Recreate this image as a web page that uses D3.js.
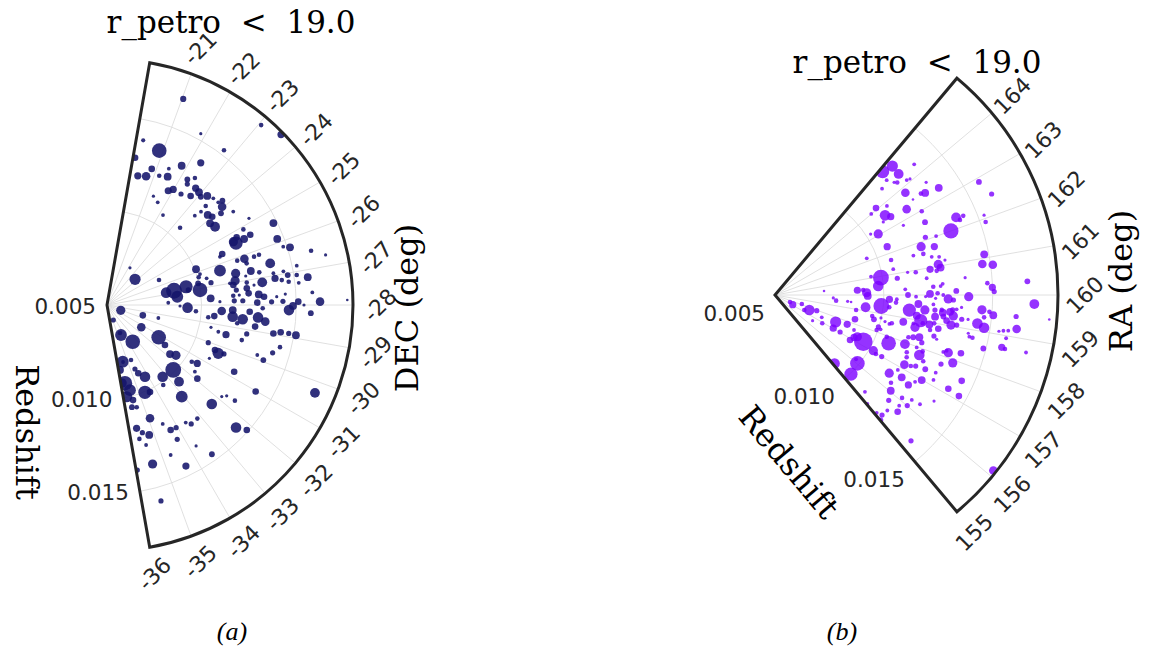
<!DOCTYPE html>
<meta charset="utf-8">
<script src="https://d3js.org/d3.v7.min.js"></script>
<style>
body { margin: 0; background: #fff; }
</style>
<div id="chart"></div>
<script>
// ---- panel (a): DEC vs redshift ----
var decA = [-21.03,-23.06,-23.56,-21.87,-20.24,-20.87,-22.71,-20.08,-21.82,-22.34,
  -20.82,-20.34,-20.69,-21.2,-21.53,-21.44,-22.26,-22.47,-22.36,-21.82,
  -21.98,-22.37,-22.75,-22.72,-22.92,-23.26,-23.09,-21.31,-21.63,-22.19,
  -23.49,-23.79,-23.95,-23.73,-23.49,-24.12,-23.82,-24.0,-23.52,-23.45,
  -24.16,-24.41,-24.35,-24.86,-25.38,-23.34,-25.1,
  -25.44,-25.34,-25.43,-25.39,-25.24,-25.88,-26.25,-26.17,-26.51,-26.71,
  -25.61,-25.69,-26.14,-26.18,-26.17,-26.12,-26.34,-26.57,-26.83,-22.17,
  -25.81,-26.31,-26.62,-26.67,-26.79,-26.92,-26.92,-27.06,-27.1,-27.21,
  -27.1,-27.19,-27.17,-26.93,-27.09,-27.27,-27.34,-23.75,-25.43,-26.32,
  -26.16,-26.5,-26.79,-27.0,-27.1,-26.7,-26.8,-26.82,-27.33,-27.08,
  -26.66,-26.95,-27.63,-28.19,-27.79,-28.08,-28.4,-30.12,-29.61,-29.42,
  -31.3,-34.5,-33.5,-34.72,-31.2,-30.04,-30.35,-30.26,-30.27,-30.75,
  -31.46,-31.79,-31.61,-32.44,-33.22,-32.68,-34.21,-34.54,-34.64,-34.64,
  -35.45,-35.71,-35.49,-34.65,-34.37,-33.49,-33.08,-31.38,-31.29,-31.72,
  -31.92,-30.77,-31.72,-31.02,-29.94,-29.84,-29.61,-29.37,-28.97,-28.89,
  -28.89,-28.91,-28.83,-29.17,-29.46,-29.4,-29.35,-29.21,-28.69,-28.59,
  -28.3,-28.23,-28.53,-28.6,-28.27,-28.47,-28.6,-28.12,-28.8,-27.6,
  -27.7,-27.91,-27.53,-27.32,-27.34,-27.81,-27.82,-27.89,-27.88,-28.16,
  -28.03,-27.9,-28.23,-27.91,-27.65,-28.0,-27.88,-27.65,-30.29,-26.82,
  -27.23,-27.58,-27.57,-27.83,-27.72,-35.9,-35.79,-35.87,-34.51,-35.43,
  -35.47,-32.34,-31.68,-34.92,-35.65,-35.45,-35.2,-34.49,-34.3,-34.06,
  -33.62,-33.47,-33.15,-32.35,-32.18,-34.24,-35.64,-35.44,-33.77,-33.49,
  -34.7,-35.4,-34.39,-35.96,-35.46,-35.63,-35.38,-31.86];
var zA = [0.01661,0.01752,0.01787,0.01532,0.01391,0.01361,0.01525,0.01292,0.01335,0.01400,
  0.01257,0.01202,0.01211,0.01237,0.01250,0.01291,0.01288,0.01316,0.01267,0.01185,
  0.01204,0.01205,0.01226,0.01275,0.01269,0.01283,0.01257,0.01125,0.01105,0.01060,
  0.01296,0.01322,0.01300,0.01300,0.01239,0.01273,0.01214,0.01226,0.01200,0.01162,
  0.01195,0.01205,0.01330,0.01379,0.01480,0.01062,0.01324,
  0.01256,0.01247,0.01304,0.01343,0.01273,0.01465,0.01514,0.01481,0.01616,0.01685,
  0.01166,0.01149,0.01266,0.01318,0.01346,0.01227,0.01270,0.01390,0.01524,0.00731,
  0.01007,0.01124,0.01200,0.01281,0.01323,0.01395,0.01449,0.01468,0.01515,0.01571,
  0.01399,0.01433,0.01329,0.01189,0.01248,0.01468,0.01520,0.00701,0.00805,0.01006,
  0.01018,0.01045,0.01062,0.01160,0.01176,0.00929,0.00862,0.00819,0.00874,0.00998,
  0.00995,0.00937,0.01049,0.00926,0.00824,0.00886,0.00971,0.00578,0.00697,0.00780,
  0.00716,0.00675,0.00737,0.00586,0.00822,0.01071,0.01141,0.01118,0.01170,0.01110,
  0.00872,0.00922,0.00951,0.00990,0.00980,0.01056,0.00929,0.00897,0.00869,0.00817,
  0.00811,0.00924,0.00966,0.01003,0.01013,0.01017,0.01125,0.01039,0.01068,0.01083,
  0.01116,0.01259,0.01294,0.01409,0.01376,0.01337,0.01411,0.01441,0.01392,0.01429,
  0.01472,0.01511,0.01291,0.01254,0.01236,0.01148,0.01105,0.01062,0.01039,0.01070,
  0.01107,0.01165,0.01167,0.01221,0.01255,0.01301,0.01341,0.01323,0.01195,0.01304,
  0.01331,0.01294,0.01251,0.01244,0.01188,0.01173,0.01218,0.01370,0.01430,0.01462,
  0.01483,0.01511,0.01578,0.01626,0.01587,0.01541,0.01770,0.01444,0.01693,0.01249,
  0.01284,0.01169,0.01201,0.01097,0.01398,0.00920,0.00996,0.00850,0.00663,0.00813,
  0.01021,0.01262,0.01344,0.01140,0.01170,0.01200,0.01222,0.01194,0.01241,0.01244,
  0.01248,0.01270,0.01267,0.01440,0.01491,0.01301,0.01228,0.01268,0.01381,0.01464,
  0.01361,0.01374,0.01448,0.01387,0.01574,0.01056,0.01063,0.01276];
var sizeA = [2.5,1.7,3,1,1.5,6.7,1.7,2.7,3.3,3,
  2.7,3,3.7,1.7,3.3,1.3,2.3,1.7,2,3,
  3,2,2.7,3,3.3,3.3,2.3,1,1.3,1.3,
  1.3,2.3,3.7,1.3,1.7,2.3,3.3,2.7,1.3,1.3,
  3.3,4.3,1.3,1,3.3,1.7,1.7,
  6,4,3.3,2.7,2.7,3.3,3.3,1.3,1.7,1,
  2.7,1.3,3.7,1.7,1.7,1.7,1.7,4.3,1.3,1,
  3.3,5.3,4,3.3,1.7,1.3,1.3,2.3,1.7,3.3,
  3,1.7,4.3,4,1.7,1.7,1.3,5,1.7,1.7,
  1.3,1.3,2,1.3,2.7,6,7.3,4.7,5.3,6.7,
  2.3,2,3.3,4.7,1.3,1,1.7,4,2.7,1.3,
  3.7,5.3,6.7,2,6.7,2,5,2.7,2,1,
  2.7,3.3,4,7.3,4.7,4.3,4.7,2.7,2,1.7,
  5.3,6.7,5.3,6,2.7,1.7,5.3,1.7,3,1.3,
  2.7,2.7,1,2.7,2.3,1.3,2,1.7,2.7,2.7,
  2,3.3,2.7,2,1.7,3,1.3,1,1.7,2.7,
  3.7,3.3,4.7,4.7,2.7,4.7,3.7,1.7,1.7,3.3,
  2.7,2.7,2.7,2.7,2,2,2,2,2,4.7,
  3.3,2.7,2.3,3.7,1.3,1,0.7,1,4.3,1,
  1,1.7,1,1,1,4,5,3.3,1.7,1.3,
  2.7,4.7,1.7,3.7,3,2,3.3,1.3,2.7,2,
  1.3,2,1.7,4.7,2.7,2,1.7,1.3,1,2.3,
  1.3,4,3,2,2,2.3,1.7,1];
var decTicks = [-36,-35,-34,-33,-32,-31,-30,-29,-28,-27,-26,-25,-24,-23,-22,-21];

// ---- panel (b): RA vs redshift ----
var raB = [164.77,164.89,164.44,164.32,164.58,164.26,164.34,164.11,164.07,164.48,
  163.67,163.81,163.42,163.48,163.32,162.9,162.5,163.47,164.07,163.85,
  163.31,162.97,163.59,163.41,164.01,163.4,162.85,162.59,162.32,162.28,
  162.21,161.91,162.09,162.0,163.06,163.25,162.1,162.01,162.33,161.83,
  161.69,161.55,161.59,161.37,161.31,161.16,161.1,162.18,161.68,161.06,
  160.94,160.94,160.85,160.85,160.79,161.23,160.92,160.97,160.93,160.5,
  161.08,160.78,160.63,160.52,160.32,160.2,160.09,160.31,159.8,159.49,
  160.3,160.31,160.38,160.04,160.06,160.13,159.95,159.87,159.84,160.0,
  159.88,159.94,159.93,160.0,160.25,159.8,159.78,159.41,160.14,160.32,
  160.33,159.94,159.23,158.95,159.47,159.71,160.47,159.5,159.47,158.78,
  158.62,159.39,159.64,159.36,159.64,159.43,159.17,159.0,159.66,159.46,
  159.49,159.4,159.45,159.52,159.55,159.62,159.23,159.27,159.33,159.15,
  159.03,159.06,159.26,159.28,158.92,158.99,158.83,158.73,158.92,158.7,
  158.84,158.82,158.64,158.58,158.64,158.78,158.29,158.1,158.2,157.7,
  157.95,157.93,158.24,158.3,158.37,158.2,157.97,158.55,158.47,157.65,
  157.47,157.74,157.91,157.59,157.17,157.24,157.32,157.37,157.74,158.16,
  157.91,158.2,158.13,158.26,157.53,158.79,158.78,158.56,158.88,159.2,
  159.11,159.59,159.47,159.39,159.55,159.11,159.13,159.08,158.94,158.7,
  158.68,159.2,159.49,158.71,156.56,156.7,156.6,156.82,156.99,157.18,
  157.42,157.16,156.29,156.86,157.13,157.5,158.14,157.64,157.29,157.94,
  156.57,157.45,156.91,157.6,157.03,157.04,157.79,157.61,158.31,156.9,
  157.18,157.21,157.31,157.05,156.97,157.0,156.03,155.38,155.1,156.16,
  156.04,156.1,156.25,156.3,156.63,155.72,156.01,155.64,155.83,155.42,
  155.17,155.08,155.02,155.03,155.29,157.12,155.3,156.12];
var zB = [0.01301,0.01252,0.01295,0.01377,0.01236,0.01263,0.01253,0.01303,0.01318,0.01193,
  0.01366,0.01261,0.01334,0.01316,0.01399,0.01571,0.01598,0.01271,0.01112,0.01157,
  0.01222,0.01276,0.01124,0.01142,0.01078,0.01100,0.01171,0.01266,0.01405,0.01438,
  0.01417,0.01524,0.01528,0.01360,0.01051,0.01021,0.01240,0.01288,0.01061,0.01207,
  0.01265,0.01207,0.01161,0.01241,0.01274,0.01297,0.01479,0.00954,0.01057,0.01263,
  0.01271,0.01222,0.01251,0.01463,0.01510,0.01056,0.01155,0.01118,0.00993,0.00976,
  0.00949,0.01067,0.01201,0.01377,0.01477,0.01499,0.01507,0.01661,0.01692,0.01765,
  0.01228,0.01262,0.01272,0.01212,0.01247,0.01333,0.01390,0.01296,0.01320,0.01273,
  0.01238,0.01192,0.01148,0.01111,0.01099,0.01060,0.01026,0.00991,0.00921,0.00906,
  0.00879,0.00926,0.00920,0.00879,0.00782,0.00768,0.00726,0.00835,0.00851,0.00957,
  0.00968,0.01028,0.01057,0.01121,0.01160,0.01192,0.01158,0.01180,0.01229,0.01238,
  0.01269,0.01275,0.01308,0.01319,0.01337,0.01359,0.01242,0.01280,0.01325,0.01297,
  0.01320,0.01346,0.01365,0.01394,0.01222,0.01243,0.01266,0.01230,0.01191,0.01160,
  0.01149,0.01102,0.01052,0.01042,0.01020,0.00998,0.00997,0.00994,0.01010,0.01067,
  0.01048,0.01138,0.01143,0.01164,0.01191,0.01209,0.01194,0.01254,0.01270,0.01160,
  0.01169,0.01218,0.01226,0.01246,0.01175,0.01204,0.01224,0.01270,0.01326,0.01339,
  0.01374,0.01329,0.01316,0.01395,0.01444,0.01413,0.01428,0.01488,0.01405,0.01439,
  0.01472,0.01453,0.01507,0.01466,0.01488,0.01562,0.01584,0.01542,0.01580,0.01569,
  0.01585,0.01621,0.01612,0.01683,0.01136,0.01194,0.01239,0.01257,0.01279,0.01326,
  0.01320,0.01405,0.01168,0.01161,0.00593,0.00576,0.00630,0.00672,0.00651,0.00705,
  0.00709,0.00738,0.00753,0.00805,0.00808,0.00844,0.00858,0.00897,0.00884,0.00902,
  0.00912,0.00959,0.00924,0.01019,0.01037,0.01066,0.00992,0.01004,0.00917,0.00975,
  0.01190,0.01251,0.01292,0.01334,0.01378,0.01212,0.01292,0.01278,0.01264,0.01240,
  0.01239,0.01215,0.01252,0.01156,0.01107,0.01464,0.01416,0.01787];
var sizeB = [5,6,4.3,1.3,1.3,1.7,1,1.3,1,1.3,
  1,3.7,3.3,1.7,3.3,2.3,2,0.7,2.7,1.3,
  3.7,1.7,4.7,3,1.3,1,1,2.3,4.3,1.7,
  1.7,1.7,1,7,4,1,2,1.3,3,4,
  3,1.7,1.3,1.3,1.3,1,3.3,1.3,1.7,4,
  3.3,3,1.7,3.7,3.7,1.3,1.7,1,7.3,4.7,
  1.3,2,1.3,1,1.7,3,2,2.3,4.3,0.7,
  1.7,1.3,1.3,3.3,1.7,2.3,4,4,2,1.3,
  1,1,1.3,2.3,1.3,1.3,3,7.3,4,1.7,
  3,3.3,4.3,1.7,1.7,1,0.7,1,0.7,1.7,
  2.3,1.7,1.7,6,3.3,4,3.3,6,1.3,2,
  1.7,3.3,3.3,2,1.3,1,3.3,2.3,4,2.7,
  4,2,2,1,3.3,1.7,2.7,1.7,1.7,4,
  1.3,3.3,1.7,1.3,1,1,2,1.7,1.3,6.7,
  1.7,4.3,1.7,2.3,3.3,2,1.3,2,1,1.7,
  1.7,4.7,1.7,1.7,3.7,1.7,2,2.3,2,4,
  4,1.3,1.3,2.7,2.7,1.3,1.7,2.3,1,4.7,
  4.7,4,3.3,1.7,1.7,1.3,1.3,1,1.3,3,
  1.7,3.7,2,1.3,4,3.3,3,1.3,3.3,1.3,
  1.3,2.7,1.7,1.3,3,1.7,1.7,4.7,1.7,2,
  1,1.3,1.7,5,3,2,3,1.3,2.7,2.7,
  3,8.7,4,4,1.7,2,6.7,6,4.7,1.3,
  3.3,1.7,1.3,1.3,1,2,2,2.7,1.3,1.3,
  2,1.3,2,1.3,1.3,2.7,2,3.7];
var raTicks = [155,156,157,158,159,160,161,162,163,164];

var zTicks = [0.005, 0.010, 0.015];

var width = 1156, height = 648;

var svg = d3.select("#chart").append("svg")
  .attr("width", width)
  .attr("height", height)
  .style("background", "#fff");

var sans = "DejaVu Sans, sans-serif";
var serif = "DejaVu Serif, serif";
var ink = "#262626";

function wedge(p) {
  var g = svg.append("g").attr("transform", "translate(" + p.cx + "," + p.cy + ")");

  // angle in radians, measured counter-clockwise from the horizontal
  var theta = d3.scaleLinear().domain(p.angDomain)
    .range([p.angRange[0] * Math.PI / 180, p.angRange[1] * Math.PI / 180]);
  var rad = d3.scaleLinear().domain([0.005, 0.018]).range([0, p.R]);
  // marker size -> radius (marker edge adds a little)
  var dot = d3.scaleLinear().domain([0, 10]).range([0.6, 10.6]);
  var t0 = theta.range()[0], t1 = theta.range()[1];

  function pos(a, r) { return [r * Math.cos(theta(a)), -r * Math.sin(theta(a))]; }

  var shape = d3.arc().innerRadius(0).outerRadius(p.R)
    .startAngle(Math.PI / 2 - t1).endAngle(Math.PI / 2 - t0);

  g.append("clipPath").attr("id", p.id + "-clip")
    .append("path").attr("d", shape());

  // circular grid
  zTicks.slice(1).forEach(function(z) {
    var path = d3.path();
    path.arc(0, 0, rad(z), -t1, -t0);
    g.append("path").attr("d", path.toString())
      .attr("fill", "none").attr("stroke", "#dcdcdc").attr("stroke-width", 0.9);
  });

  // spokes
  g.selectAll(".spoke").data(p.ticks).enter().append("line")
    .attr("x1", 0).attr("y1", 0)
    .attr("x2", function(d) { return pos(d, p.R)[0]; })
    .attr("y2", function(d) { return pos(d, p.R)[1]; })
    .attr("stroke", "#dcdcdc").attr("stroke-width", 0.9);

  // galaxies
  var pts = p.ang.map(function(a, i) { return {a: a, z: p.z[i], s: p.size[i]}; });
  g.append("g").attr("clip-path", "url(#" + p.id + "-clip)")
    .selectAll("circle").data(pts).enter().append("circle")
    .attr("cx", function(d) { return pos(d.a, rad(d.z))[0]; })
    .attr("cy", function(d) { return pos(d.a, rad(d.z))[1]; })
    .attr("r", function(d) { return dot(d.s); })
    .attr("fill", p.color)
    .attr("fill-opacity", p.alpha);

  // frame
  g.append("path").attr("d", shape())
    .attr("fill", "none").attr("stroke", ink).attr("stroke-width", 3)
    .attr("stroke-linejoin", "miter");

  // angular tick labels
  g.selectAll(".atick").data(p.ticks).enter().append("text")
    .attr("transform", function(d) {
      var q = pos(d, p.R + 27);
      return "translate(" + q[0] + "," + q[1] + ") rotate(-45)";
    })
    .attr("text-anchor", "middle")
    .attr("dy", "0.35em")
    .style("font-family", sans).style("font-size", "22px").style("fill", ink)
    .text(function(d) { return String(d); });

  // radial tick labels along the lower edge
  g.selectAll(".rtick").data(zTicks).enter().append("text")
    .attr("x", function(d) { return pos(p.angDomain[0], rad(d))[0] + p.rlDx; })
    .attr("y", function(d) { return pos(p.angDomain[0], rad(d))[1] + p.rlDy; })
    .attr("text-anchor", "end")
    .attr("dy", "0.35em")
    .style("font-family", sans).style("font-size", "21.5px").style("fill", ink)
    .text(d3.format(".3f"));
}

wedge({
  id: "a", cx: 107, cy: 305, R: 246,
  angDomain: [-36, -20], angRange: [-80, 80],
  ticks: decTicks, ang: decA, z: zA, size: sizeA,
  color: "#15156b", alpha: 0.88, rlDx: -11, rlDy: 1
});

wedge({
  id: "b", cx: 775, cy: 295, R: 283,
  angDomain: [155, 165], angRange: [-50, 50],
  ticks: raTicks, ang: raB, z: zB, size: sizeB,
  color: "#7a00ff", alpha: 0.8, rlDx: -10, rlDy: 18
});

function label(txt, x, y, rot, size, family, style) {
  svg.append("text")
    .attr("transform", "translate(" + x + "," + y + ") rotate(" + rot + ")")
    .attr("text-anchor", "middle")
    .attr("dy", "0.35em")
    .style("font-family", family)
    .style("font-size", size + "px")
    .style("font-style", style || "normal")
    .style("white-space", "pre")
    .style("fill", "#000")
    .text(txt);
}

// titles
label("r_petro  <  19.0", 231, 22, 0, 31, serif);
label("r_petro  <  19.0", 917, 62, 0, 31, serif);

// axis names
label("DEC (deg)", 407, 308, -90, 32, serif);
label("Redshift", 27, 432, 90, 32, serif);
label("RA (deg)", 1121, 281, -90, 32, serif);
label("Redshift", 789, 462, 50, 32, serif);

// panel captions
label("(a)", 232, 631, 0, 26, "Liberation Serif, serif", "italic");
label("(b)", 842, 631, 0, 26, "Liberation Serif, serif", "italic");
</script>
